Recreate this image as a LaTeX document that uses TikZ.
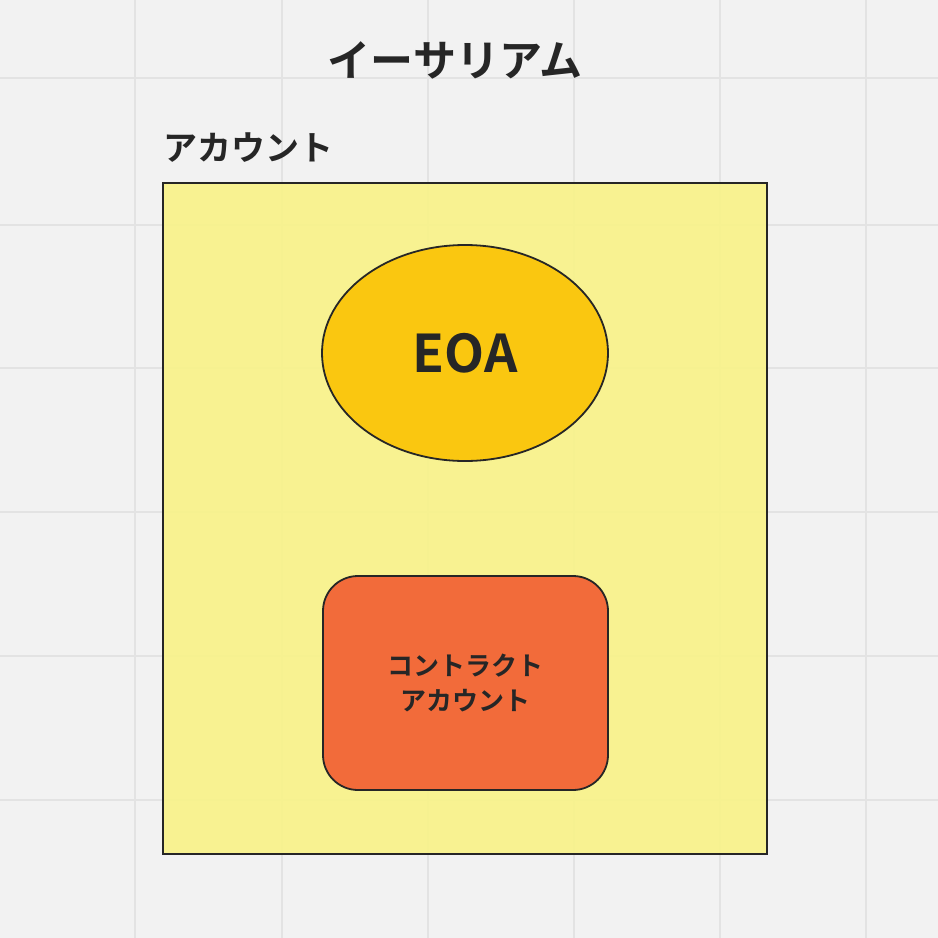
\documentclass[tikz,border=0pt]{standalone}
\usepackage{fontspec}
\usetikzlibrary{shapes.geometric}
\setmainfont{Noto Sans CJK JP}[BoldFont={* Bold}]
\begin{document}
\begin{tikzpicture}[x=1pt,y=-1pt,
  outline/.style={draw=black!85,line width=1.8pt},
  lbl/.style={font=\bfseries,text=black!85}]
\fill[gray!10] (0,0) rectangle (938,938);
\useasboundingbox (0,0) rectangle (938,938);
\foreach \v in {135,282,428,574,720,866}{
  \draw[gray!22,line width=1.2pt] (\v,0) -- (\v,938);}
\foreach \v in {78,225,368,512,656,800}{
  \draw[gray!22,line width=1.2pt] (0,\v) -- (938,\v);}
\node[lbl,font=\bfseries\fontsize{43}{50}\selectfont] (title) at (455,60) {イーサリアム};
\node[lbl,font=\bfseries\fontsize{34}{40}\selectfont] (acct) at (248,148) {アカウント};
\draw[outline,fill={rgb,255:red,249;green,243;blue,135},fill opacity=0.9] (163,183) rectangle (767,854);
\node[outline,ellipse,fill={rgb,255:red,250;green,199;blue,16},minimum width=286pt,minimum height=216pt,inner sep=0pt,text=black!85,font=\bfseries\fontsize{52}{56}\selectfont] (eoa) at (465,353) {EOA};
\node[outline,rounded corners=35pt,fill={rgb,255:red,242;green,107;blue,58},minimum width=285pt,minimum height=214pt,align=center,text=black!85,font=\bfseries\fontsize{26}{35}\selectfont] (ca) at (465.5,683) {コントラクト\\アカウント};
\end{tikzpicture}
\end{document}
